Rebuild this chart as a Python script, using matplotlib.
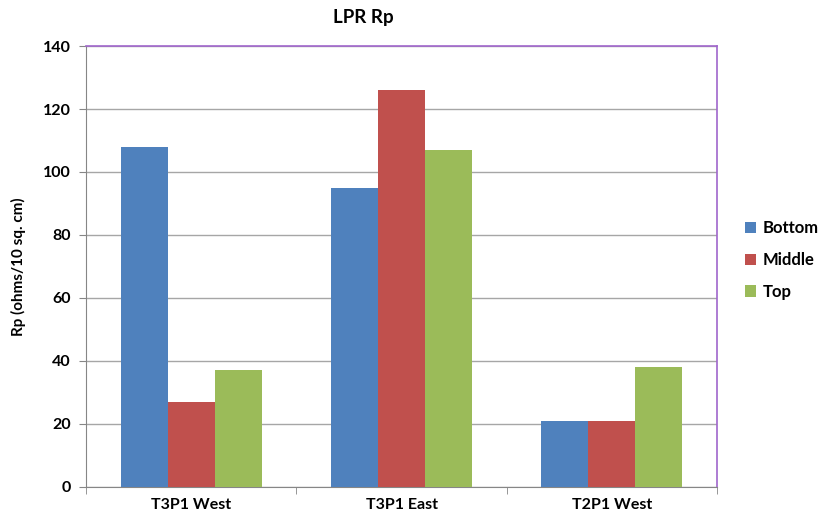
import matplotlib.pyplot as plt
import numpy as np

plt.rcParams['font.family'] = ['Lato', 'DejaVu Sans']
plt.rcParams['font.weight'] = 'bold'

sites = ["T3P1 West", "T3P1 East", "T2P1 West"]
bottom = [108, 95, 21]
middle = [27, 126, 21]
top = [37, 107, 38]
series = ["Bottom", "Middle", "Top"]
colors = ["#4F81BD", "#C0504D", "#9BBB59"]

fig = plt.figure(figsize=(8.19, 5.21), dpi=100)
ax = fig.add_axes([0.105, 0.0653, 0.7705, 0.8464])

x = np.arange(len(sites))
w = 0.2235
for i, (vals, name, c) in enumerate(zip([bottom, middle, top], series, colors)):
    ax.bar(x + (i - 1) * w, vals, w, color=c, label=name, zorder=3)

ax.set_xlim(-0.5, 2.5)
ax.set_ylim(0, 140)
ax.set_yticks(range(0, 141, 20))
ax.yaxis.grid(True, color="#A6A6A6", linewidth=1, zorder=0)

# category labels centred, tick marks between categories
ax.set_xticks(x)
ax.set_xticklabels(sites, fontsize=11.5, fontweight="bold")
ax.set_xticks([-0.5, 0.5, 1.5, 2.5], minor=True)
ax.tick_params(axis="x", which="major", length=0, pad=8)
ax.tick_params(axis="x", which="minor", length=5, color="#868686", direction="out")
ax.tick_params(axis="y", length=5, color="#868686", labelsize=11.5, pad=6)
for lbl in ax.get_yticklabels():
    lbl.set_fontweight("bold")

for side in ["left", "bottom"]:
    ax.spines[side].set_color("#868686")
for side in ["top", "right"]:
    ax.spines[side].set_color("#A066CC")
    ax.spines[side].set_linewidth(1.2)

ax.set_ylabel("Rp (ohms/10 sq. cm)", fontsize=11, fontweight="bold", labelpad=12)
fig.text(0.443, 0.967, "LPR Rp", ha="center", va="center", fontsize=13.5, fontweight="bold")

ax.legend(loc="center left", bbox_to_anchor=(1.033, 0.514), frameon=False,
          fontsize=12, handlelength=0.7, handleheight=0.7, handletextpad=0.4,
          labelspacing=0.95, borderaxespad=0)

fig.savefig("out.png", dpi=100)
